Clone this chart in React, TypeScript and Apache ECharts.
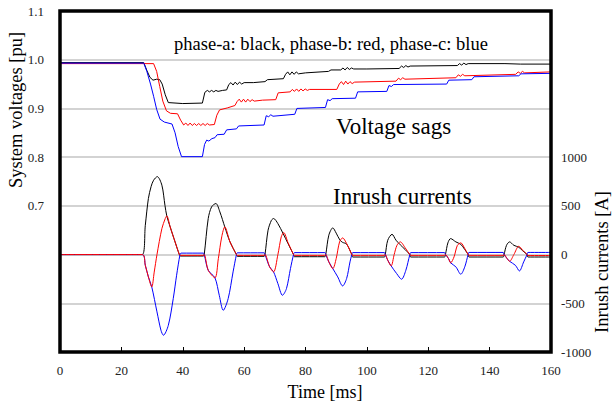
import React, { useEffect, useRef } from 'react';
import * as echarts from 'echarts';

// ---- Data (time [ms], value) ----
const voltageA: [number, number][] = [
  [0, 0.994], [27.3, 0.994], [28.3, 0.978], [29.3, 0.964], [30.3, 0.958], [31.5, 0.960], [32.5, 0.959], [33.3, 0.950],
  [34.3, 0.928], [35.3, 0.912], [40, 0.910], [46.4, 0.911], [47.2, 0.933], [48, 0.937], [48.7, 0.934], [49.4, 0.937],
  [50.1, 0.934], [50.8, 0.937], [51.5, 0.935], [53, 0.937], [54.3, 0.938], [55.0, 0.949], [55.7, 0.953], [56.4, 0.948],
  [57.1, 0.954], [57.8, 0.949], [58.5, 0.954], [59.2, 0.950], [60, 0.953], [63, 0.953], [66.8, 0.955], [67.6, 0.959],
  [72.8, 0.961], [73.5, 0.970], [74.2, 0.975], [74.9, 0.969], [75.6, 0.975], [76.3, 0.970], [77, 0.975], [77.7, 0.971],
  [80, 0.973], [87.5, 0.976], [88.3, 0.979], [91.5, 0.979], [92.2, 0.983], [92.9, 0.979], [93.6, 0.984], [94.3, 0.980],
  [95, 0.983], [95.7, 0.981], [100, 0.981], [110.5, 0.982], [111.3, 0.987], [112, 0.984], [112.7, 0.988], [113.4, 0.985],
  [114.1, 0.987], [129.5, 0.988], [130.2, 0.992], [130.9, 0.989], [131.6, 0.993], [132.3, 0.990], [133, 0.992],
  [145, 0.992], [150, 0.991], [160, 0.991],
];

const voltageB: [number, number][] = [
  [0, 0.992], [30.5, 0.992], [31.5, 0.976], [32.5, 0.945], [33.5, 0.915], [34.7, 0.895], [36, 0.890], [38.3, 0.889],
  [39.3, 0.876], [40.3, 0.866], [41, 0.870], [41.7, 0.865], [42.4, 0.870], [43.1, 0.865], [43.8, 0.869], [44.5, 0.865],
  [45.2, 0.869], [45.9, 0.865], [46.6, 0.869], [47.3, 0.865], [48, 0.869], [48.7, 0.866], [50.3, 0.867], [51.1, 0.886],
  [52, 0.897], [54.5, 0.901], [57, 0.906], [57.7, 0.914], [58.4, 0.919], [59.1, 0.913], [59.8, 0.919], [60.5, 0.913],
  [61.2, 0.919], [61.9, 0.914], [62.6, 0.918], [63.3, 0.915], [66, 0.917], [70.3, 0.918], [71.1, 0.932], [75, 0.934],
  [75.7, 0.939], [76.4, 0.935], [77.1, 0.940], [77.8, 0.935], [78.5, 0.940], [79.2, 0.936], [79.9, 0.940], [80.6, 0.937],
  [81.3, 0.939], [90.2, 0.939], [91, 0.950], [91.7, 0.955], [92.4, 0.949], [93.1, 0.956], [93.8, 0.950], [94.5, 0.955],
  [95.2, 0.951], [96, 0.954], [109.5, 0.956], [110.3, 0.962], [111, 0.959], [111.7, 0.963], [112.4, 0.960], [129, 0.963],
  [129.8, 0.969], [130.5, 0.966], [131.2, 0.970], [131.9, 0.967], [148.5, 0.970], [149.3, 0.975], [150, 0.972],
  [150.7, 0.976], [151.4, 0.973], [160, 0.975],
];

const voltageC: [number, number][] = [
  [0, 0.993], [27.3, 0.993], [28.3, 0.976], [29.5, 0.950], [30.5, 0.925], [31.5, 0.898], [32.6, 0.878], [34, 0.872],
  [36.5, 0.868], [37.5, 0.850], [38.5, 0.822], [39.6, 0.801], [46.4, 0.801], [47.1, 0.826], [47.8, 0.835], [48.5, 0.833],
  [49.5, 0.838], [50.5, 0.840], [51.2, 0.846], [53.5, 0.847], [54.3, 0.856], [57.5, 0.858], [58.2, 0.864], [66.5, 0.866],
  [67.2, 0.885], [68, 0.883], [68.7, 0.887], [69.4, 0.884], [76.5, 0.888], [77.2, 0.900], [86.5, 0.902], [87.2, 0.918],
  [88, 0.916], [88.7, 0.920], [96.3, 0.921], [97, 0.934], [106.5, 0.935], [107.2, 0.947], [108, 0.945], [108.7, 0.949],
  [126, 0.950], [126.7, 0.958], [134.2, 0.959], [134.9, 0.965], [149.5, 0.967], [150.2, 0.971], [160, 0.972],
];

const currentA: [number, number][] = [
  [0, 0], [26.8, 0], [27.8, 300], [28.8, 575], [29.7, 700], [30.5, 763], [31.7, 800], [33.2, 712], [34.2, 506],
  [34.8, 397], [35.9, 284], [37.5, 130], [38.9, 0], [39.3, -15],
  [46.7, -15], [47.0, 0], [48.3, 370], [49.4, 490], [50.8, 524], [52.1, 438], [53.7, 284], [55.4, 130], [57.5, 0], [57.8, -18],
  [66.5, -18], [66.8, 0], [67.8, 250], [68.9, 352], [69.6, 370], [71.0, 318], [72.7, 216], [74.3, 113], [76.1, 0], [76.4, -22],
  [86.3, -22], [86.6, 0], [87.6, 199], [88.9, 274], [90.0, 220], [91.2, 150], [92.1, 125], [93.4, 108], [95.1, 0], [95.4, -25],
  [105.7, -25], [106.0, 0], [106.8, 147], [108.2, 208], [109.5, 147], [110.9, 100], [112.5, 50], [114, 0], [114.3, -25],
  [125.3, -25], [125.6, 0], [126.4, 120], [127.3, 164], [129, 130], [130.6, 105], [131.9, 52], [133, 0], [133.3, -25],
  [144.4, -25], [144.7, 0], [145.5, 95], [146.5, 130], [147.9, 95], [149.5, 75], [150.8, 38], [152.2, 0], [152.5, -25],
  [160, -25],
];

const currentB: [number, number][] = [
  [0, 0], [26.8, 0], [27.8, -110], [28.8, -229], [29.9, -332], [30.7, -180], [31.6, 0], [33.2, 267], [34.3, 370],
  [34.8, 397], [35.9, 284], [37.5, 130], [38.9, 0], [39.3, -8],
  [46.7, -8], [47.0, 0], [48.3, -161], [50.5, -239], [51.6, -41], [52.7, 182], [53.7, 284], [55.4, 130], [57.5, 0], [57.8, -8],
  [66.5, -8], [66.8, 0], [68.3, -126], [69.6, -178], [71.0, 0], [72.1, 182], [72.9, 226], [74.3, 123], [76.1, 0], [76.4, -8],
  [86.3, -8], [86.6, 0], [87.6, -75], [88.9, -144], [90.0, -41], [91.1, 130], [92.1, 171], [93.4, 113], [95.1, 0], [95.4, -8],
  [105.7, -8], [106.0, 0], [106.8, -58], [107.9, -116], [108.9, 0], [109.8, 95], [110.9, 130], [112.5, 68], [114, 0], [114.3, -8],
  [125.3, -8], [125.6, 0], [126.6, -41], [127.3, -85], [128.4, -24], [129.5, 95], [130.6, 120], [131.9, 62], [133, 0], [133.3, -8],
  [144.4, -8], [144.7, 0], [145.7, -41], [146.5, -69], [147.9, 0], [149.5, 85], [150.8, 44], [152.2, 0], [152.5, -10],
  [160, -10],
];

const currentC: [number, number][] = [
  [0, 0], [26.8, 0], [27.8, -110], [28.8, -229], [29.9, -332], [31.6, -588], [32.9, -777], [33.7, -828], [35.3, -726],
  [36.9, -452], [38.0, -212], [39.1, 0], [39.4, 15],
  [46.7, 15], [47.0, 0], [48.3, -161], [50.5, -239], [51.9, -418], [53.2, -572], [54.8, -452], [56.4, -178], [57.5, 0], [57.8, 18],
  [66.5, 18], [66.8, 0], [68.3, -126], [69.6, -178], [71.0, -298], [72.5, -418], [73.8, -349], [75.1, -144], [76.1, 0], [76.4, 20],
  [86.3, 20], [86.6, 0], [87.6, -75], [88.9, -144], [90.5, -229], [92.1, -322], [93.4, -246], [94.5, -75], [95.1, 0], [95.4, 20],
  [105.7, 20], [106.0, 0], [106.8, -58], [107.9, -116], [109.7, -195], [111.3, -253], [112.7, -161], [114, 0], [114.3, 20],
  [125.3, 20], [125.6, 0], [126.6, -41], [127.3, -85], [129, -126], [130.6, -202], [131.9, -126], [133, 0], [133.3, 22],
  [144.4, 22], [144.7, 0], [145.7, -41], [146.5, -69], [148.4, -110], [149.7, -168], [151.1, -75], [152.2, 0], [152.5, 22],
  [160, 22],
];

const xRange = { min: 0, max: 160, interval: 20 };
const voltRange = { min: 0.4, max: 1.1, interval: 0.1, labelFrom: 0.65 };
const currRange = { min: -1000, max: 2500, interval: 500, labelTo: 1000 };

const legendText = 'phase-a: black, phase-b: red, phase-c: blue';
const sagText = 'Voltage sags';
const inrushText = 'Inrush currents';
const leftName = 'System voltages [pu]';
const rightName = 'Inrush currents [A]';
const xName = 'Time [ms]';

const FONT = "'Liberation Serif', 'Times New Roman', Times, serif";

export default function App() {
  const ref = useRef<HTMLDivElement>(null);
  useEffect(() => {
    const chart = echarts.init(ref.current!, null, { renderer: 'svg' });
    const labelStyle = { fontFamily: FONT, fontSize: 13, color: '#222' };
    const lineSeries = (name: string, data: [number, number][], color: string, yAxisIndex: number, smooth: number | boolean) => ({
      name,
      type: 'line',
      data,
      yAxisIndex,
      showSymbol: false,
      symbol: 'none',
      smooth,
      lineStyle: { color, width: 1 },
      itemStyle: { color },
      z: 3,
    });
    const txt = (text: string, x: number, y: number, fontSize: number, align: string, rotation = 0) => ({
      type: 'text', x, y, rotation,
      style: {
        text, fill: '#000', align, verticalAlign: 'middle',
        font: `${fontSize}px ${FONT}`,
        fontFamily: FONT, fontSize,
      },
    });
    chart.setOption({
      animation: false,
      backgroundColor: '#fff',
      textStyle: { fontFamily: FONT },
      grid: {
        left: 60, right: 61, top: 11, bottom: 51,
        show: true, borderColor: '#000', borderWidth: 3.5, backgroundColor: 'transparent',
        z: 5,
      },
      xAxis: {
        type: 'value',
        min: xRange.min, max: xRange.max, interval: xRange.interval,
        axisLine: { show: false, onZero: false },
        axisTick: { show: true, inside: true, length: 5, lineStyle: { color: '#000', width: 1 } },
        axisLabel: { ...labelStyle, margin: 12 },
        splitLine: { show: false },
      },
      yAxis: [
        {
          type: 'value',
          min: voltRange.min, max: voltRange.max, interval: voltRange.interval,
          axisLine: { show: false, onZero: false },
          axisTick: { show: false },
          axisLabel: {
            ...labelStyle, margin: 16,
            formatter: (v: number) => (v >= voltRange.labelFrom ? v.toFixed(1) : ''),
          },
          splitLine: { show: true, lineStyle: { color: '#c4c4c4', width: 1.5 } },
        },
        {
          type: 'value',
          position: 'right',
          min: currRange.min, max: currRange.max, interval: currRange.interval,
          axisLine: { show: false, onZero: false },
          axisTick: { show: false },
          axisLabel: {
            ...labelStyle, margin: 10,
            formatter: (v: number) => (v <= currRange.labelTo ? String(Math.round(v)) : ''),
          },
          splitLine: { show: false },
        },
      ],
      graphic: [
        txt(legendText, 331, 44, 18.5, 'center'),
        txt(sagText, 336, 126, 23, 'left'),
        txt(inrushText, 333, 196, 23, 'left'),
        txt(leftName, 16, 110, 18.5, 'center', Math.PI / 2),
        txt(rightName, 602, 262, 18.5, 'center', Math.PI / 2),
        txt(xName, 325, 392, 18, 'center'),
      ],
      series: [
        lineSeries('va', voltageA, '#000000', 0, false),
        lineSeries('vb', voltageB, '#ff0000', 0, false),
        lineSeries('vc', voltageC, '#0000ff', 0, false),
        lineSeries('ia', currentA, '#000000', 1, 0.3),
        lineSeries('ic', currentC, '#0000ff', 1, 0.3),
        lineSeries('ib', currentB, '#ff0000', 1, 0.3),
      ],
    });
    return () => chart.dispose();
  }, []);
  return <div ref={ref} style={{ position: 'absolute', left: 0, top: 0, width: 612, height: 403 }} />;
}
